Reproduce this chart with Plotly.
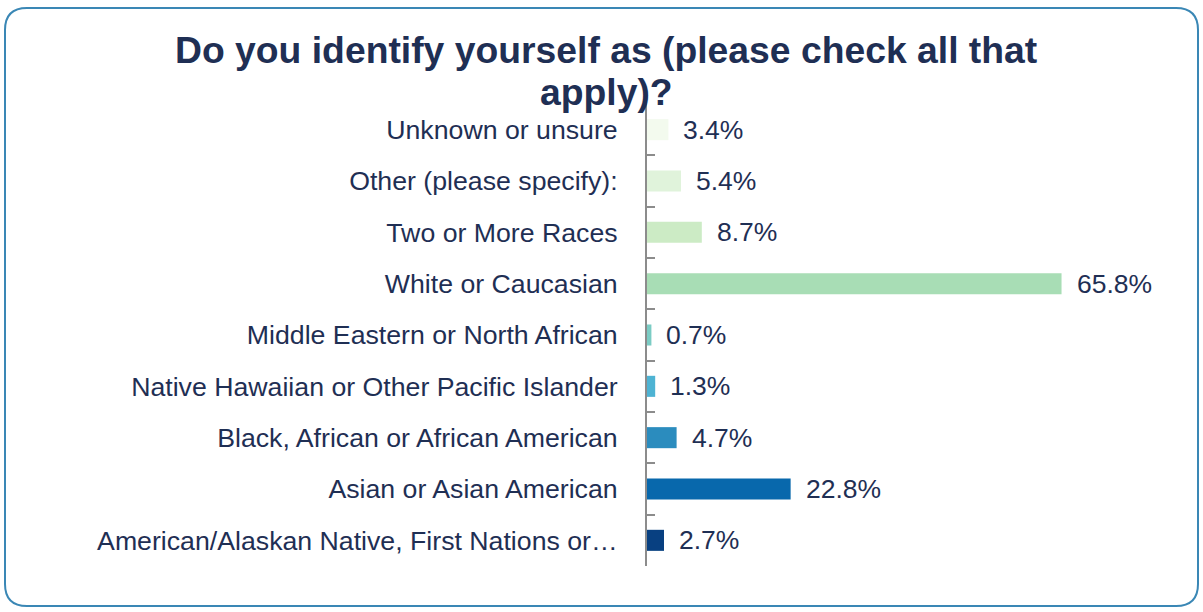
import plotly.graph_objects as go

categories = [
    "American/Alaskan Native, First Nations or…",
    "Asian or Asian American",
    "Black, African or African American",
    "Native Hawaiian or Other Pacific Islander",
    "Middle Eastern or North African",
    "White or Caucasian",
    "Two or More Races",
    "Other (please specify):",
    "Unknown or unsure",
]
values = [2.7, 22.8, 4.7, 1.3, 0.7, 65.8, 8.7, 5.4, 3.4]
value_labels = ["2.7%", "22.8%", "4.7%", "1.3%", "0.7%", "65.8%", "8.7%", "5.4%", "3.4%"]
bar_colors = ["#084081", "#0868ac", "#2b8cbe", "#4eb3d3", "#7bccc4",
              "#a8ddb5", "#ccebc5", "#e0f3db", "#f3faee"]
title_lines = ["Do you identify yourself as (please check all that", "apply)?"]

W, H = 1203, 612
L, R, T, B = 647, 53, 104, 46
pw, ph = W - L - R, H - T - B
TEXT = "#1F2F54"
FONT = "Liberation Sans, Arial"

fig = go.Figure(go.Bar(
    x=values, y=categories, orientation="h",
    marker=dict(color=bar_colors, line=dict(width=0)),
    hoverinfo="skip",
))

for c, v, t in zip(categories, values, value_labels):
    fig.add_annotation(x=v, y=c, text=t, showarrow=False, xanchor="left",
                       xshift=13, font=dict(size=26.5, color=TEXT, family=FONT))


def px(x):
    return (x - L) / pw


def py(y):
    return 1 - (y - T) / ph


for line, base in zip(title_lines, [64, 106]):
    fig.add_annotation(x=px(606), y=py(base + 9), xref="paper", yref="paper",
                       text=f"<b>{line}</b>", showarrow=False,
                       xanchor="center", yanchor="bottom",
                       font=dict(size=37.3, color=TEXT, family=FONT))

x0, x1, y0, y1, r = 5, 1198, 8, 606, 22
path = (f"M {px(x0+r)},{py(y0)} L {px(x1-r)},{py(y0)} "
        f"Q {px(x1)},{py(y0)} {px(x1)},{py(y0+r)} "
        f"L {px(x1)},{py(y1-r)} Q {px(x1)},{py(y1)} {px(x1-r)},{py(y1)} "
        f"L {px(x0+r)},{py(y1)} Q {px(x0)},{py(y1)} {px(x0)},{py(y1-r)} "
        f"L {px(x0)},{py(y0+r)} Q {px(x0)},{py(y0)} {px(x0+r)},{py(y0)} Z")
fig.add_shape(type="path", path=path, xref="paper", yref="paper",
              line=dict(color="#3A87B5", width=2), layer="below")

fig.update_layout(
    width=W, height=H,
    margin=dict(l=L, r=R, t=T, b=B),
    paper_bgcolor="white", plot_bgcolor="white",
    bargap=0.59,
    showlegend=False,
    font=dict(family=FONT, color=TEXT, size=22),
    xaxis=dict(range=[0, pw / 6.3], visible=False, fixedrange=True),
    yaxis=dict(
        type="category", categoryorder="array", categoryarray=categories,
        showline=True, linecolor="#8C8C8C", linewidth=2,
        ticks="inside", tickson="boundaries", ticklen=8, tickcolor="#8C8C8C",
        tickwidth=2, ticklabelstandoff=22,
        tickfont=dict(size=26.7, color=TEXT, family=FONT),
        showgrid=False, zeroline=False, fixedrange=True,
    ),
)

fig.write_html("out.html", config={"displayModeBar": False},
               post_script="document.body.style.margin='0';")
